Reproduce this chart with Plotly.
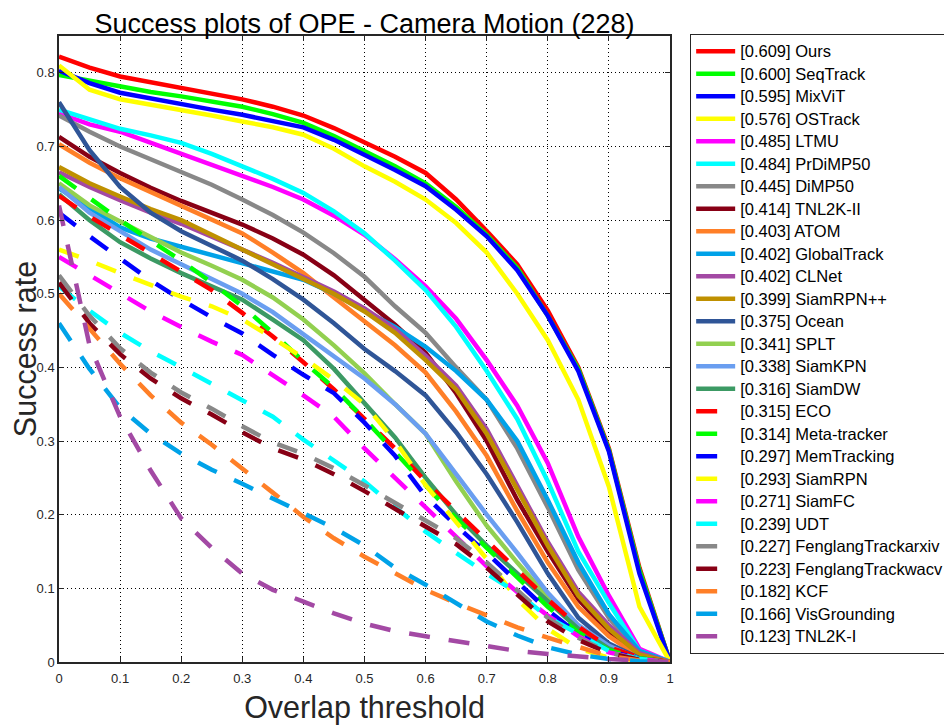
import plotly.graph_objects as go

thresholds = [round(i * 0.05, 2) for i in range(21)]

names = ["Ours", "SeqTrack", "MixViT", "OSTrack", "LTMU", "PrDiMP50", "DiMP50",
         "TNL2K-II", "ATOM", "GlobalTrack", "CLNet", "SiamRPN++", "Ocean", "SPLT",
         "SiamKPN", "SiamDW", "ECO", "Meta-tracker", "MemTracking", "SiamRPN",
         "SiamFC", "UDT", "FenglangTrackarxiv", "FenglangTrackwacv", "KCF",
         "VisGrounding", "TNL2K-I"]
auc = ["0.609", "0.600", "0.595", "0.576", "0.485", "0.484", "0.445", "0.414",
       "0.403", "0.402", "0.402", "0.399", "0.375", "0.341", "0.338", "0.316",
       "0.315", "0.314", "0.297", "0.293", "0.271", "0.239", "0.227", "0.223",
       "0.182", "0.166", "0.123"]

ours = [0.822, 0.807, 0.795, 0.787, 0.780, 0.772, 0.764, 0.754, 0.742, 0.725, 0.705,
        0.686, 0.664, 0.628, 0.585, 0.540, 0.477, 0.400, 0.290, 0.128, 0.0]
seqtrack = [0.797, 0.789, 0.781, 0.774, 0.768, 0.761, 0.754, 0.744, 0.732, 0.714, 0.693,
            0.673, 0.650, 0.618, 0.580, 0.535, 0.470, 0.398, 0.288, 0.125, 0.0]
mixvit = [0.803, 0.786, 0.773, 0.765, 0.757, 0.750, 0.743, 0.735, 0.726, 0.709, 0.689,
          0.668, 0.646, 0.614, 0.578, 0.532, 0.470, 0.395, 0.286, 0.120, 0.0]
ostrack = [0.810, 0.777, 0.764, 0.757, 0.750, 0.742, 0.734, 0.726, 0.716, 0.697, 0.673,
           0.652, 0.628, 0.596, 0.556, 0.500, 0.437, 0.356, 0.238, 0.075, 0.0]
ltmu = [0.745, 0.730, 0.720, 0.705, 0.690, 0.676, 0.661, 0.645, 0.628, 0.606, 0.580,
        0.547, 0.510, 0.466, 0.410, 0.348, 0.270, 0.170, 0.090, 0.018, 0.0]
prdimp50 = [0.750, 0.737, 0.724, 0.715, 0.705, 0.690, 0.673, 0.656, 0.637, 0.612, 0.582,
            0.545, 0.505, 0.455, 0.395, 0.330, 0.245, 0.150, 0.080, 0.015, 0.0]
dimp50 = [0.742, 0.720, 0.700, 0.683, 0.666, 0.648, 0.628, 0.607, 0.583, 0.555, 0.523,
          0.483, 0.447, 0.400, 0.356, 0.290, 0.210, 0.125, 0.060, 0.012, 0.0]
tnl2k_ii = [0.713, 0.686, 0.664, 0.644, 0.626, 0.610, 0.594, 0.575, 0.553, 0.525, 0.492,
            0.458, 0.420, 0.365, 0.300, 0.220, 0.150, 0.085, 0.040, 0.008, 0.0]
atom = [0.703, 0.678, 0.657, 0.638, 0.620, 0.600, 0.582, 0.556, 0.528, 0.495, 0.462,
        0.430, 0.393, 0.340, 0.280, 0.205, 0.135, 0.075, 0.035, 0.007, 0.0]
globaltrack = [0.643, 0.617, 0.590, 0.575, 0.564, 0.553, 0.542, 0.531, 0.519, 0.500, 0.478,
               0.455, 0.428, 0.395, 0.356, 0.300, 0.220, 0.135, 0.065, 0.015, 0.0]
clnet = [0.665, 0.645, 0.627, 0.610, 0.595, 0.578, 0.560, 0.542, 0.522, 0.503, 0.480,
         0.452, 0.416, 0.375, 0.316, 0.240, 0.163, 0.095, 0.050, 0.012, 0.0]
siamrpnpp = [0.672, 0.650, 0.632, 0.615, 0.600, 0.580, 0.560, 0.540, 0.519, 0.500, 0.476,
             0.447, 0.410, 0.370, 0.310, 0.235, 0.158, 0.090, 0.045, 0.010, 0.0]
ocean = [0.760, 0.695, 0.645, 0.610, 0.585, 0.565, 0.545, 0.520, 0.492, 0.460, 0.425,
         0.395, 0.362, 0.312, 0.255, 0.190, 0.120, 0.060, 0.025, 0.005, 0.0]
splt = [0.650, 0.620, 0.598, 0.577, 0.556, 0.538, 0.519, 0.495, 0.465, 0.430, 0.392,
        0.350, 0.310, 0.245, 0.185, 0.135, 0.088, 0.045, 0.018, 0.004, 0.0]
siamkpn = [0.645, 0.610, 0.585, 0.560, 0.540, 0.520, 0.500, 0.475, 0.445, 0.415, 0.385,
           0.350, 0.310, 0.255, 0.200, 0.148, 0.094, 0.050, 0.022, 0.004, 0.0]
siamdw = [0.635, 0.600, 0.570, 0.548, 0.528, 0.510, 0.492, 0.465, 0.437, 0.398, 0.352,
          0.305, 0.250, 0.200, 0.158, 0.120, 0.084, 0.045, 0.018, 0.004, 0.0]
eco = [0.633, 0.605, 0.580, 0.555, 0.530, 0.505, 0.474, 0.442, 0.407, 0.370, 0.330,
       0.290, 0.245, 0.205, 0.166, 0.125, 0.085, 0.048, 0.020, 0.006, 0.0]
meta_tracker = [0.660, 0.630, 0.600, 0.572, 0.545, 0.515, 0.483, 0.447, 0.408, 0.372, 0.330,
                0.285, 0.240, 0.195, 0.155, 0.115, 0.075, 0.040, 0.016, 0.005, 0.0]
memtracking = [0.610, 0.578, 0.548, 0.518, 0.492, 0.468, 0.446, 0.417, 0.390, 0.365, 0.325,
               0.280, 0.225, 0.185, 0.148, 0.110, 0.070, 0.038, 0.015, 0.004, 0.0]
siamrpn = [0.560, 0.545, 0.528, 0.512, 0.496, 0.483, 0.465, 0.440, 0.413, 0.383, 0.350,
           0.300, 0.240, 0.190, 0.140, 0.085, 0.045, 0.018, 0.006, 0.002, 0.0]
siamfc = [0.550, 0.525, 0.500, 0.476, 0.455, 0.435, 0.417, 0.390, 0.362, 0.333, 0.290,
          0.250, 0.210, 0.170, 0.130, 0.095, 0.063, 0.035, 0.013, 0.004, 0.0]
udt = [0.510, 0.477, 0.447, 0.422, 0.400, 0.378, 0.356, 0.333, 0.302, 0.273, 0.245,
       0.210, 0.177, 0.148, 0.120, 0.094, 0.061, 0.038, 0.015, 0.004, 0.0]
fenglang_arxiv = [0.525, 0.470, 0.426, 0.393, 0.366, 0.344, 0.320, 0.298, 0.283, 0.263, 0.240,
                  0.216, 0.193, 0.168, 0.135, 0.098, 0.060, 0.033, 0.013, 0.003, 0.0]
fenglang_wacv = [0.515, 0.460, 0.418, 0.385, 0.358, 0.336, 0.312, 0.290, 0.275, 0.255, 0.232,
                 0.208, 0.185, 0.160, 0.128, 0.092, 0.055, 0.030, 0.012, 0.003, 0.0]
kcf = [0.500, 0.452, 0.405, 0.362, 0.325, 0.295, 0.263, 0.230, 0.197, 0.168, 0.143,
       0.120, 0.098, 0.080, 0.063, 0.047, 0.033, 0.020, 0.008, 0.002, 0.0]
visgrounding = [0.460, 0.398, 0.345, 0.310, 0.283, 0.261, 0.242, 0.222, 0.203, 0.182, 0.158,
                0.128, 0.105, 0.080, 0.055, 0.036, 0.020, 0.010, 0.004, 0.001, 0.0]
tnl2k_i = [0.620, 0.430, 0.333, 0.260, 0.195, 0.155, 0.120, 0.098, 0.082, 0.066, 0.052,
           0.042, 0.035, 0.028, 0.021, 0.015, 0.011, 0.007, 0.004, 0.002, 0.0]

series = [ours, seqtrack, mixvit, ostrack, ltmu, prdimp50, dimp50, tnl2k_ii, atom,
          globaltrack, clnet, siamrpnpp, ocean, splt, siamkpn, siamdw, eco, meta_tracker,
          memtracking, siamrpn, siamfc, udt, fenglang_arxiv, fenglang_wacv, kcf,
          visgrounding, tnl2k_i]

palette = ["#ff0000", "#00ff00", "#0000ff", "#ffff00", "#ff00ff", "#00ffff", "#888888",
           "#880015", "#ff7f27", "#00a2e8", "#a349a4", "#bf9000", "#2f5597", "#92d050",
           "#6a9ef0", "#3c9a64"]
colors = palette + palette[:11]
n_solid = 16

fig = go.Figure()
for i, (nm, a, ys) in enumerate(zip(names, auc, series)):
    fig.add_trace(go.Scatter(
        x=thresholds, y=ys, mode="lines",
        name=f"<span style='font-size:16.5px'>[{a}] {nm}</span>",
        line=dict(color=colors[i], width=4.5,
                  dash="solid" if i < n_solid else "21px,19px"),
    ))

axis_col = "#262626"
common = dict(showline=True, linecolor=axis_col, linewidth=1.5, mirror="ticks",
              ticks="inside", ticklen=5, tickcolor=axis_col, tickwidth=1,
              showgrid=True, gridcolor="#000000", gridwidth=1, griddash="1px,3px",
              zeroline=False, automargin=False,
              tickfont=dict(size=13, color=axis_col, family="Liberation Sans"))

fig.update_xaxes(range=[0, 1], dtick=0.1, tick0=0, tickformat="~g",
                 ticklabelstandoff=4,
                 title=dict(text="Overlap threshold", standoff=16,
                            font=dict(size=30.5, color=axis_col, family="Liberation Sans")),
                 **common)
fig.update_yaxes(range=[0, 0.85], dtick=0.1, tick0=0, tickformat="~g",
                 title=dict(text="Success rate", standoff=15,
                            font=dict(size=30.5, color=axis_col, family="Liberation Sans")),
                 **common)

fig.update_layout(
    width=944, height=717,
    margin=dict(l=51, r=282, t=28, b=63, autoexpand=False),
    paper_bgcolor="white", plot_bgcolor="white",
    font=dict(family="Liberation Sans", color="#000000"),
    title=dict(text="Success plots of OPE - Camera Motion (228)", x=0.5, xref="paper",
               xanchor="center", y=1, yref="container", yanchor="top",
               pad=dict(t=5.6),
               font=dict(size=27, color="#000000", family="Liberation Sans")),
    legend=dict(x=1.033, y=1.0032, xanchor="left", yanchor="top",
                bgcolor="white", bordercolor=axis_col, borderwidth=1,
                font=dict(size=15, color="#000000", family="Liberation Sans"),
                itemwidth=39, tracegroupgap=0, maxheight=700),
    showlegend=True,
)

fig.write_html("out.html")
